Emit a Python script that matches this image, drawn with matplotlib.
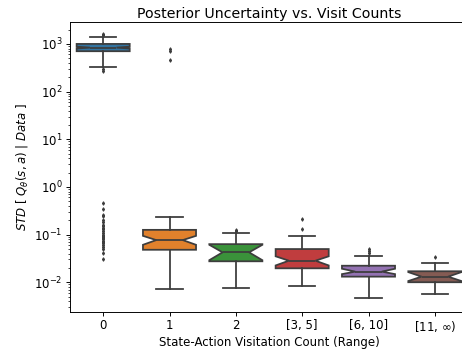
import matplotlib
matplotlib.use("Agg")
import matplotlib.pyplot as plt
import numpy as np

categories = ["0", "1", "2", "[3, 5]", "[6, 10]", r"[11, $\infty$)"]
q1 = [703, 0.048, 0.0275, 0.0196, 0.0131, 0.0100]
med = [837, 0.0766, 0.0424, 0.0283, 0.0167, 0.0131]
q3 = [1000, 0.1256, 0.063, 0.0497, 0.0222, 0.0170]
whislo = [330, 0.00735, 0.0076, 0.0082, 0.0047, 0.0056]
whishi = [1380, 0.239, 0.107, 0.0914, 0.0349, 0.0253]
cilo = [800, 0.061, 0.029, 0.0225, 0.0148, 0.0106]
cihi = [875, 0.094, 0.061, 0.035, 0.0192, 0.0163]
fliers = [
    [1620, 1550, 296, 273,
     0.45, 0.35, 0.26, 0.25, 0.2, 0.18, 0.16, 0.15, 0.14, 0.13, 0.12, 0.11,
     0.10, 0.095, 0.09, 0.085, 0.08, 0.075, 0.07, 0.065, 0.06, 0.055, 0.05,
     0.042, 0.031],
    [786, 725, 456],
    [0.125, 0.118],
    [0.214, 0.134],
    [0.0497, 0.046, 0.042],
    [0.0333],
]
colors = ["#3274a1", "#e1812c", "#3a923a", "#c03d3e", "#9372b2", "#845b53"]

s = 1.18
plt.rcParams.update({
    "font.size": 10 * s,
    "axes.titlesize": 12 * s,
    "axes.labelsize": 10 * s,
    "xtick.labelsize": 10 * s,
    "ytick.labelsize": 10 * s,
    "axes.linewidth": 0.8 * s,
    "xtick.major.width": 0.8 * s,
    "ytick.major.width": 0.8 * s,
    "ytick.minor.width": 0.6 * s,
    "xtick.major.size": 3.5 * s,
    "ytick.major.size": 3.5 * s,
    "ytick.minor.size": 2 * s,
})

stats = []
for i in range(len(categories)):
    stats.append(dict(med=med[i], q1=q1[i], q3=q3[i], whislo=whislo[i],
                      whishi=whishi[i], cilo=cilo[i], cihi=cihi[i],
                      fliers=fliers[i], label=categories[i]))

fig = plt.figure(figsize=(462 / 72, 353 / 72), dpi=72)
ax = fig.add_axes([70 / 462, 41.5 / 353, 398 / 462, 289.5 / 353])
gray = "#3d3d3d"
lw = 1.5 * s
bp = ax.bxp(stats, positions=range(len(categories)), widths=0.8,
            shownotches=True, patch_artist=True,
            boxprops=dict(edgecolor=gray, linewidth=lw),
            medianprops=dict(color=gray, linewidth=lw),
            whiskerprops=dict(color=gray, linewidth=lw),
            capprops=dict(color=gray, linewidth=lw),
            flierprops=dict(marker="d", markersize=2.5, markerfacecolor=gray,
                            markeredgecolor=gray, linestyle="none"))
for patch, c in zip(bp["boxes"], colors):
    patch.set_facecolor(c)

ax.set_yscale("log")
ax.set_ylim(10 ** -2.614, 10 ** 3.46)
ax.set_xlim(-0.5, 5.5)
ax.set_xticks(range(len(categories)))
ax.set_xticklabels(categories)
ax.spines["right"].set_visible(False)
ax.set_xlabel("State-Action Visitation Count (Range)", labelpad=2)
ax.set_ylabel(r"$STD$ [ $Q_\theta(s, a)$ | $Data$ ]")
ax.set_title("Posterior Uncertainty vs. Visit Counts", pad=4)

fig.savefig("out.png", dpi=72)
